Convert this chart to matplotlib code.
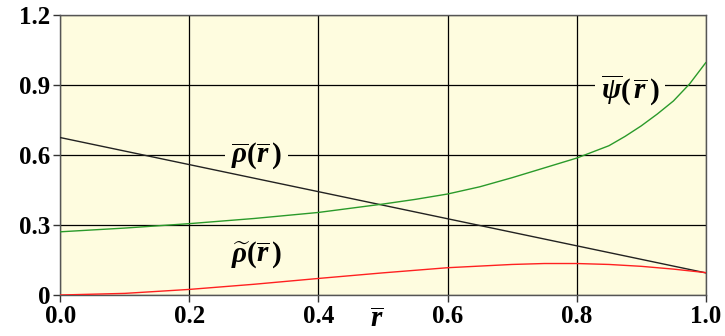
import matplotlib
matplotlib.use("Agg")
import matplotlib.pyplot as plt
import numpy as np

# data
r_rho = [0.0, 1.0]
rho_bar = [0.675, 0.095]

r_psi = [0.0, 0.1, 0.2, 0.3, 0.4, 0.5, 0.55, 0.6, 0.65, 0.7, 0.75, 0.8, 0.85,
         0.875, 0.9, 0.925, 0.95, 0.975, 1.0]
psi_bar = [0.271, 0.287, 0.306, 0.328, 0.354, 0.39, 0.41, 0.433, 0.464, 0.503,
           0.545, 0.587, 0.64, 0.68, 0.725, 0.776, 0.832, 0.905, 0.996]

r_rt = [0.0, 0.1, 0.2, 0.3, 0.4, 0.5, 0.6, 0.7, 0.75, 0.8, 0.85, 0.9, 0.95, 1.0]
rho_tilde = [0.0, 0.007, 0.024, 0.046, 0.071, 0.095, 0.117, 0.131, 0.135, 0.135,
             0.131, 0.123, 0.111, 0.096]

xticks = [0.0, 0.2, 0.4, 0.6, 0.8, 1.0]
xticklabels = ["0.0", "0.2", "0.4", "0.6", "0.8", "1.0"]
yticks = [0, 0.3, 0.6, 0.9, 1.2]
yticklabels = ["0", "0.3", "0.6", "0.9", "1.2"]

plt.rcParams['mathtext.fontset'] = 'custom'
plt.rcParams['mathtext.it'] = 'Liberation Serif:bold:italic'
plt.rcParams['mathtext.rm'] = 'Liberation Serif:bold'
plt.rcParams['mathtext.bf'] = 'Liberation Serif:bold'

bg = '#FEFCDF'
fig = plt.figure(figsize=(7.25, 3.36), dpi=100)
ax = fig.add_axes([0.0832, 0.122, 0.8902, 0.833])
ax.set_facecolor(bg)

ax.plot(r_rho, rho_bar, color='#222222', lw=1.0, zorder=3)
ax.plot(r_psi, psi_bar, color='#2a9a2a', lw=1.0, zorder=3)
ax.plot(r_rt, rho_tilde, color='#ff2020', lw=1.0, zorder=3)

ax.set_xlim(0, 1.0)
ax.set_ylim(0, 1.2)
ax.set_xticks(xticks)
ax.set_xticklabels(xticklabels)
ax.set_yticks(yticks)
ax.set_yticklabels(yticklabels)
for lab in ax.get_xticklabels() + ax.get_yticklabels():
    lab.set_fontfamily('Liberation Serif')
    lab.set_fontweight('bold')
    lab.set_fontsize(18)
ax.tick_params(axis='both', direction='out', length=5, width=1, color='#333333', pad=2)
ax.grid(True, color='black', lw=0.9, zorder=1)
ax.set_axisbelow(True)
for s in ax.spines.values():
    s.set_color('#555555')
    s.set_linewidth(1.0)

lab_kw = dict(fontsize=21, ha='center', va='center', zorder=2.5,
              bbox=dict(boxstyle='square,pad=0.2', fc=bg, ec='none'))
ax.text(0.304, 0.60, r'$\overline{\rho}(\overline{r}\,)$', **lab_kw)
ax.text(0.883, 0.88, r'$\overline{\psi}(\,\overline{r}\,)$', **lab_kw)
ax.text(0.304, 0.172, r'$\widetilde{\rho}(\overline{r}\,)$', **lab_kw)

fig.text(376.7 / 725, 1 - 319 / 336, r'$\overline{r}$', fontsize=21, ha='center', va='center')

fig.savefig('out.png', dpi=100)
